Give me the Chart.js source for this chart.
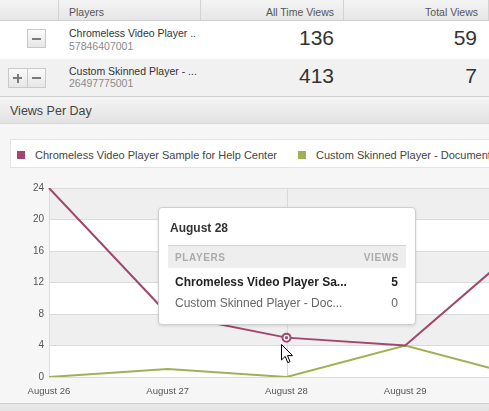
<!DOCTYPE html>
<html>
<head>
<meta charset="utf-8">
<script src="https://cdn.jsdelivr.net/npm/chart.js@4.4.1/dist/chart.umd.min.js"></script>
<style>
  html, body { margin:0; padding:0; }
  body { width:489px; height:411px; overflow:hidden; position:relative; background:#f6f6f6;
         font-family:"Liberation Sans", Arial, sans-serif; color:#333; }
  .abs { position:absolute; white-space:nowrap; }
  .hdr { left:0; top:0; width:489px; height:20px; background:linear-gradient(#f4f4f4,#e6e6e6);
         border-bottom:1px solid #cfcfcf; }
  .sep { top:0; width:1px; height:20px; background:#d2d2d2; }
  .htxt { font-size:10.5px; color:#555; line-height:14px; top:5px; }
  .row1 { left:0; top:21px; width:489px; height:38px; background:#fff; }
  .row2 { left:0; top:59px; width:489px; height:37px; background:#f1f1f1; border-bottom:1px solid #cfcfcf; }
  .name { font-size:10.5px; color:#333; line-height:14px; }
  .pid { font-size:10.5px; color:#8a8a8a; line-height:14px; }
  .big { font-size:21px; color:#333; line-height:24px; text-align:right; }
  .btn { border:1px solid #c9c9c9; background:linear-gradient(#fbfbfb,#e6e6e6); box-sizing:border-box; }
  .bar { background:#7a7a7a; }
  .vpd { left:0; top:97px; width:489px; height:26px; background:linear-gradient(#f5f5f5,#e2e2e2);
         border-bottom:1px solid #d6d6d6; }
  .legend { left:10px; top:139px; width:520px; height:29px; background:#fff; border:1px solid #e3e3e3; box-sizing:border-box; }
  .sq { width:8px; height:8px; }
  .ltxt { font-size:11px; color:#444; line-height:14px; }
  #chartWrap { position:absolute; left:0; top:170px; width:548px; height:233px; }
  .bottom { left:0; top:403px; width:489px; height:8px; background:linear-gradient(#e9e9e9,#e1e1e1); border-top:1px solid #cfcfcf; }
  #tip { background:#fff; border:1px solid #cfcfcf; border-radius:4px; box-shadow:0 1px 3px rgba(0,0,0,0.12);
         width:258px; height:118px; box-sizing:border-box; }
</style>
</head>
<body>
<script>
// ---- data ----
const playerNames = ["Chromeless Video Player Sample for Help Center", "Custom Skinned Player - Documentation"];
const tableNames = ["Chromeless Video Player ..", "Custom Skinned Player - ..."];
const playerIds = ["57846407001", "26497775001"];
const allTimeViews = [136, 413];
const totalViews = [59, 7];
const days = ["August 26", "August 27", "August 28", "August 29", "August 30"];
const chromelessViews = [24, 8, 5, 4, 17];
const customViews = [0, 1, 0, 4, 0];
const yTicks = [0, 4, 8, 12, 16, 20, 24];
const colors = ["#a1466c", "#a2b055"];
const hoverIndex = 2;
</script>

<div class="abs hdr"></div>
<div class="abs sep" style="left:58px"></div>
<div class="abs sep" style="left:200px"></div>
<div class="abs sep" style="left:343px"></div>
<div class="abs sep" style="left:488px"></div>
<div class="abs htxt" style="left:69px">Players</div>
<div class="abs htxt" style="right:155px">All Time Views</div>
<div class="abs htxt" style="right:11px">Total Views</div>

<div class="abs row1"></div>
<div class="abs row2"></div>

<!-- buttons -->
<div class="abs btn" style="left:27px;top:29px;width:19px;height:19px"></div>
<div class="abs bar" style="left:32px;top:38px;width:9px;height:2px"></div>
<div class="abs btn" style="left:8px;top:68px;width:20px;height:20px"></div>
<div class="abs bar" style="left:13px;top:77px;width:9px;height:2px"></div>
<div class="abs bar" style="left:16.5px;top:73.5px;width:2px;height:9px"></div>
<div class="abs btn" style="left:27px;top:68px;width:19px;height:20px"></div>
<div class="abs bar" style="left:32px;top:77px;width:9px;height:2px"></div>

<div id="rows"></div>

<div class="abs vpd"></div>
<div class="abs" style="left:10px;top:103px;font-size:12.5px;color:#444;line-height:16px">Views Per Day</div>

<div class="abs legend"></div>
<div id="legendItems"></div>

<div id="chartWrap"><canvas id="c"></canvas></div>
<div class="abs bottom"></div>

<div id="tip" class="abs"></div>
<svg id="cursor" class="abs" width="13" height="21" viewBox="0 0 13 21" style="overflow:visible">
  <path d="M0.5,0.5 L0.5,16 L4.2,12.4 L6.8,18.6 L9,17.7 L6.5,11.6 L11.5,11.6 Z" fill="#fff" stroke="#000" stroke-width="1" stroke-linejoin="miter"/>
</svg>

<script>
// table rows
(function(){
  const rows = document.getElementById('rows');
  const nameTops = [26, 64];
  const idTops = [39, 76];
  const bigTops = [26, 64];
  let html = '';
  for (let i = 0; i < tableNames.length; i++) {
    html += `<div class="abs name" style="left:69px;top:${nameTops[i]}px">${tableNames[i]}</div>`;
    html += `<div class="abs pid" style="left:69px;top:${idTops[i]}px">${playerIds[i]}</div>`;
    html += `<div class="abs big" style="right:155px;top:${bigTops[i]}px">${allTimeViews[i]}</div>`;
    html += `<div class="abs big" style="right:12px;top:${bigTops[i]}px">${totalViews[i]}</div>`;
  }
  rows.innerHTML = html;

  // legend
  const lx = [17, 298];
  let lh = '';
  for (let i = 0; i < playerNames.length; i++) {
    lh += `<div class="abs sq" style="left:${lx[i]}px;top:151px;background:${colors[i]}"></div>`;
    lh += `<div class="abs ltxt" style="left:${lx[i]+18}px;top:148px">${playerNames[i]}</div>`;
  }
  document.getElementById('legendItems').innerHTML = lh;
})();

const bandsPlugin = {
  id: 'bands',
  beforeDraw(chart) {
    const {ctx, chartArea: a, scales: {y}} = chart;
    ctx.save();
    for (let i = 0; i < yTicks.length - 1; i++) {
      const top = y.getPixelForValue(yTicks[i + 1]);
      const bot = y.getPixelForValue(yTicks[i]);
      ctx.fillStyle = (i % 2 === 1) ? '#efefef' : '#ffffff';
      ctx.fillRect(a.left, top, a.right - a.left, bot - top);
    }
    ctx.restore();
  },
  beforeDatasetsDraw(chart) {
    const {ctx, chartArea: a, scales: {x}} = chart;
    const px = Math.round(x.getPixelForValue(hoverIndex)) + 0.5;
    ctx.save();
    ctx.strokeStyle = '#d9d9d9';
    ctx.lineWidth = 1;
    ctx.beginPath();
    ctx.moveTo(px, a.top);
    ctx.lineTo(px, a.bottom);
    ctx.stroke();
    ctx.restore();
  },
  afterDatasetsDraw(chart) {
    const pt = chart.getDatasetMeta(0).data[hoverIndex];
    const ctx = chart.ctx;
    ctx.save();
    ctx.fillStyle = colors[0];
    ctx.beginPath();
    ctx.arc(pt.x, pt.y, 1.6, 0, Math.PI * 2);
    ctx.fill();
    ctx.restore();
  }
};

const chart = new Chart(document.getElementById('c'), {
  type: 'line',
  data: {
    labels: days,
    datasets: [
      { label: playerNames[0], data: chromelessViews, borderColor: colors[0], backgroundColor: '#fff',
        borderWidth: 2, tension: 0,
        pointRadius: ctx => ctx.dataIndex === hoverIndex ? 4 : 0,
        pointBorderWidth: 2, pointBorderColor: colors[0], pointBackgroundColor: '#fff' },
      { label: playerNames[1], data: customViews, borderColor: colors[1], backgroundColor: colors[1],
        borderWidth: 2, tension: 0, pointRadius: 0 }
    ]
  },
  options: {
    responsive: true,
    maintainAspectRatio: false,
    animation: false,
    layout: { padding: { top: 18, left: 0, right: 24, bottom: 0 } },
    plugins: { legend: { display: false }, tooltip: { enabled: false } },
    events: [],
    scales: {
      x: {
        offset: false,
        grid: { display: false },
        border: { display: true, color: '#dcdcdc' },
        ticks: { color: '#555', font: { family: '"Liberation Sans", Arial', size: 9.5 }, padding: 1, maxRotation: 0, autoSkip: false },
        afterFit(s) { s.height = 26; }
      },
      y: {
        min: 0, max: 24,
        afterBuildTicks(s) { s.ticks = yTicks.map(v => ({ value: v })); },
        grid: { color: '#dadada', drawTicks: false },
        border: { display: true, color: '#dcdcdc' },
        ticks: { color: '#555', font: { family: '"Liberation Sans", Arial', size: 10 }, padding: 5 },
        afterFit(s) { s.width = 49; }
      }
    }
  },
  plugins: [bandsPlugin]
});

// tooltip built from the data at hoverIndex, placed relative to the hovered point
(function(){
  const pt = chart.getDatasetMeta(0).data[hoverIndex];
  const wrap = document.getElementById('chartWrap');
  const px = wrap.offsetLeft + pt.x, py = wrap.offsetTop + pt.y;
  const tip = document.getElementById('tip');
  const tl = Math.round(px - 129), tt = Math.round(py - 131);
  tip.style.left = tl + 'px';
  tip.style.top = tt + 'px';
  const trunc = (s, n) => s.length > n ? s.slice(0, n) + '...' : s;
  const vals = [chromelessViews[hoverIndex], customViews[hoverIndex]];
  tip.innerHTML =
    `<div class="abs" style="left:11px;top:13px;font-size:12px;font-weight:bold;color:#333;line-height:15px">${days[hoverIndex]}</div>` +
    `<div class="abs" style="left:9px;top:37px;width:238px;height:23px;background:#eeeeee;border-top:1px solid #d3d3d3;box-sizing:border-box"></div>` +
    `<div class="abs" style="left:16px;top:43px;font-size:10px;font-weight:bold;color:#ababab;letter-spacing:0.6px;line-height:13px">PLAYERS</div>` +
    `<div class="abs" style="right:16px;top:43px;font-size:10px;font-weight:bold;color:#ababab;letter-spacing:0.6px;line-height:13px">VIEWS</div>` +
    `<div class="abs" style="left:16px;top:67px;font-size:12px;font-weight:bold;color:#222;line-height:15px">${trunc(playerNames[0], 26)}</div>` +
    `<div class="abs" style="right:17px;top:67px;font-size:12px;font-weight:bold;color:#222;line-height:15px">${vals[0]}</div>` +
    `<div class="abs" style="left:16px;top:88px;font-size:12px;color:#666;line-height:15px">${trunc(playerNames[1], 27)}</div>` +
    `<div class="abs" style="right:17px;top:88px;font-size:12px;color:#666;line-height:15px">${vals[1]}</div>`;
  const cur = document.getElementById('cursor');
  cur.style.left = Math.round(px - 6) + 'px';
  cur.style.top = Math.round(py + 6) + 'px';
})();
</script>
</body>
</html>
